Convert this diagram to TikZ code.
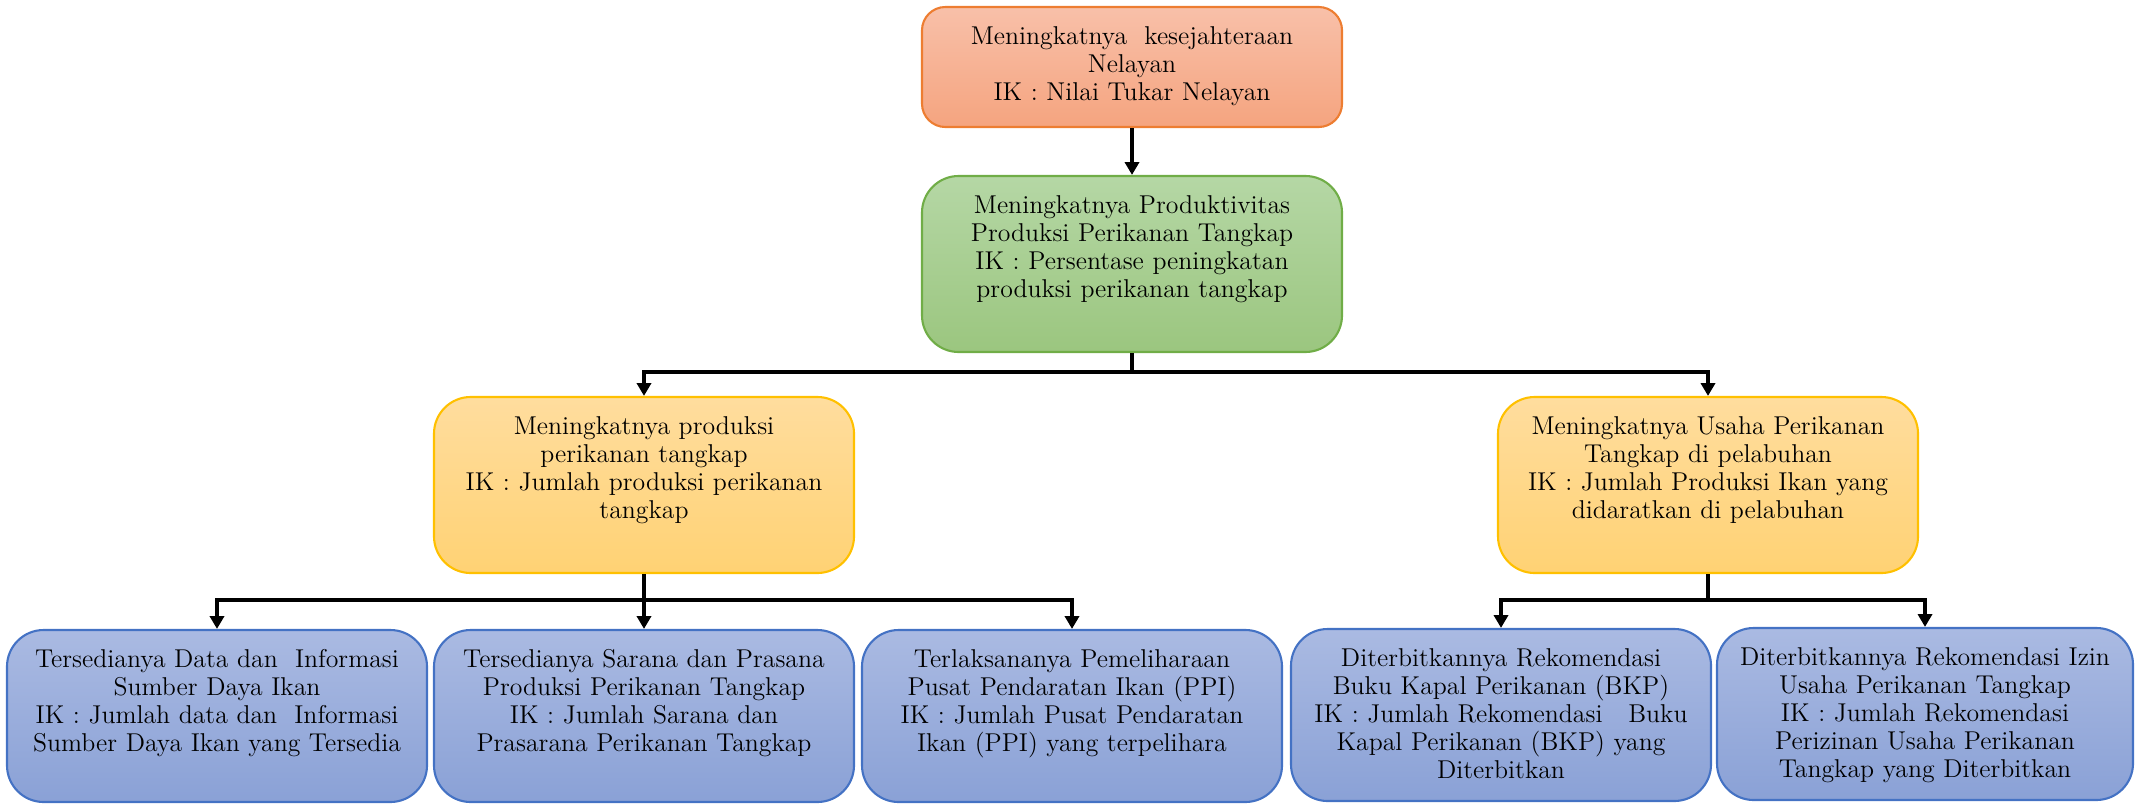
\documentclass[tikz,border=0pt]{standalone}
\usepackage{tikz}
\usetikzlibrary{arrows.meta}

\definecolor{OrangeTop}{HTML}{F8C0A9}
\definecolor{OrangeBot}{HTML}{F5A47F}
\definecolor{OrangeLine}{HTML}{ED7D31}
\definecolor{GreenTop}{HTML}{B5D7A5}
\definecolor{GreenBot}{HTML}{9BC67F}
\definecolor{GreenLine}{HTML}{70AD47}
\definecolor{YellowTop}{HTML}{FFDD9E}
\definecolor{YellowBot}{HTML}{FFD274}
\definecolor{YellowLine}{HTML}{FFC000}
\definecolor{BlueTop}{HTML}{AABAE2}
\definecolor{BlueBot}{HTML}{8AA1D6}
\definecolor{BlueLine}{HTML}{4472C4}

\tikzset{
  box/.style={draw, line width=0.9pt, rounded corners=0.55cm, inner sep=0pt,
    text width=6.3cm, align=center, text height=0.555cm,
    font=\fontsize{11}{11.95}\selectfont},
  goalbox/.style={box, rounded corners=0.35cm, draw=OrangeLine,
    top color=OrangeTop, bottom color=OrangeBot, text depth=1.245cm},
  aimbox/.style={box, draw=GreenLine,
    top color=GreenTop, bottom color=GreenBot, text depth=2.085cm},
  progbox/.style={box, draw=YellowLine,
    top color=YellowTop, bottom color=YellowBot, text depth=2.085cm},
  actbox/.style={box, draw=BlueLine,
    top color=BlueTop, bottom color=BlueBot, text depth=2.025cm},
  bus/.style={line width=1.7pt},
  link/.style={line width=1.7pt, -{Triangle[width=6pt,length=5.5pt]}},
}

\begin{document}
\begin{tikzpicture}[x=0.015cm, y=-0.015cm]
    \useasboundingbox (0,0) rectangle (2136,803);

    % levels 1 and 2
    \node [goalbox] (goal) at (1132,67) {Meningkatnya\ \ kesejahteraan\\Nelayan\\IK : Nilai Tukar Nelayan};
    \node [aimbox] (aim) at (1132,264) {Meningkatnya Produktivitas\\Produksi Perikanan Tangkap\\IK : Persentase peningkatan\\produksi perikanan tangkap};

    % level 3
    \node [progbox] (prodL) at (644,485) {Meningkatnya produksi\\perikanan tangkap\\IK : Jumlah produksi perikanan\\tangkap};
    \node [progbox] (usahaR) at (1708,485) {Meningkatnya Usaha Perikanan\\Tangkap di pelabuhan\\IK : Jumlah Produksi Ikan yang\\didaratkan di pelabuhan};

    % level 4
    \node [actbox] (data) at (217,716) {Tersedianya Data dan\ \ Informasi\\Sumber Daya Ikan\\IK : Jumlah data dan\ \ Informasi\\Sumber Daya Ikan yang Tersedia};
    \node [actbox] (sarana) at (644,716) {Tersedianya Sarana dan Prasana\\Produksi Perikanan Tangkap\\IK : Jumlah Sarana dan\\Prasarana Perikanan Tangkap};
    \node [actbox] (ppi) at (1072,716) {Terlaksananya Pemeliharaan\\Pusat Pendaratan Ikan (PPI)\\IK : Jumlah Pusat Pendaratan\\Ikan (PPI) yang terpelihara};
    \node [actbox] (bkp) at (1501,715) {Diterbitkannya Rekomendasi\\Buku Kapal Perikanan (BKP)\\IK : Jumlah Rekomendasi\ \ \ Buku\\Kapal Perikanan (BKP) yang\\Diterbitkan};
    \node [actbox, text width=6.24cm] (izin) at (1925,714) {Diterbitkannya Rekomendasi Izin\\Usaha Perikanan Tangkap\\IK : Jumlah Rekomendasi\\Perizinan Usaha Perikanan\\Tangkap yang Diterbitkan};

    \coordinate (busA) at (1132,372);
    \coordinate (busL) at (644,600);
    \coordinate (busR) at (1708,600);

    \draw [link] (goal) -- (aim);
    \draw [bus] (aim.south) -- (busA);
    \draw [link] (busA) -| (prodL.north);
    \draw [link] (busA) -| (usahaR.north);

    \draw [link] (prodL.south) -- (sarana.north);
    \draw [link] (busL) -| (data.north);
    \draw [link] (busL) -| (ppi.north);

    \draw [bus] (usahaR.south) -- (busR);
    \draw [link] (busR) -| (bkp.north);
    \draw [link] (busR) -| (izin.north);

\end{tikzpicture}
\end{document}
